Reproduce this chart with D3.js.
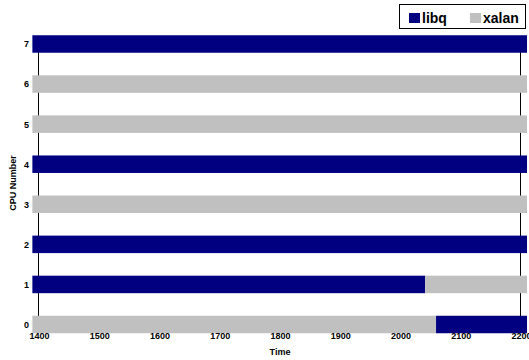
<!DOCTYPE html>
<html>
<head>
<meta charset="utf-8">
<script src="https://cdn.jsdelivr.net/npm/d3@7"></script>
<style>
  body { margin: 0; background: #fff; }
  svg { display: block; font-family: "Liberation Sans", Arial, sans-serif; }
</style>
</head>
<body>
<svg width="529" height="360"></svg>
<script>
// data
const cpus = [0, 1, 2, 3, 4, 5, 6, 7];
const programs = ['libq', 'xalan'];
const colors = ['#000080', '#c0c0c0'];
const xTicks = [1400, 1500, 1600, 1700, 1800, 1900, 2000, 2100, 2200];
const runStart = 1389;
const runEnd = 2210;
// program running on each cpu, with the time it switched (null = no switch)
const firstProg = ['xalan', 'libq', 'libq', 'xalan', 'libq', 'xalan', 'xalan', 'libq'];
const secondProg = ['libq', 'xalan', null, null, null, null, null, null];
const switchTime = [2059, 2041, null, null, null, null, null, null];

var segments = [];
cpus.forEach((c, i) => {
    if (switchTime[i] === null) {
        segments.push({cpu: c, from: runStart, to: runEnd, prog: firstProg[i]});
    } else {
        segments.push({cpu: c, from: runStart, to: switchTime[i], prog: firstProg[i]});
        segments.push({cpu: c, from: switchTime[i], to: runEnd, prog: secondProg[i]});
    }
});

const svg = d3.select('svg');

const xScale = d3.scaleLinear()
    .domain([1400, 2200])
    .range([39, 521]);

const yScale = d3.scaleLinear()
    .domain([0, 7])
    .range([324.5, 44]);

const color = d3.scaleOrdinal()
    .domain(programs)
    .range(colors);

const barH = 17.5;

// the two vertical lines at the ends of the axis
svg.append('g')
    .selectAll('line')
    .data([1400, 2200])
    .enter()
    .append('line')
    .attr('x1', d => xScale(d) - 0.5)
    .attr('x2', d => xScale(d) - 0.5)
    .attr('y1', yScale(7))
    .attr('y2', yScale(0))
    .attr('stroke', '#000')
    .attr('stroke-width', 1);

svg.append('g')
    .selectAll('rect')
    .data(segments)
    .enter()
    .append('rect')
    .attr('x', s => xScale(s.from))
    .attr('y', s => yScale(s.cpu) - barH / 2)
    .attr('width', s => xScale(s.to) - xScale(s.from))
    .attr('height', barH)
    .attr('fill', s => color(s.prog));

// x axis labels
const xAxis = svg.append('g')
    .attr('transform', `translate(0, 333)`)
    .call(d3.axisBottom(xScale).tickValues(xTicks).tickSize(0).tickPadding(0).tickFormat(d3.format('d')));
xAxis.select('.domain').remove();
xAxis.selectAll('text')
    .attr('font-size', 9)
    .attr('font-weight', 'bold')
    .attr('font-family', '"Liberation Sans", Arial, sans-serif')
    .attr('fill', '#000');

// y axis labels
const yAxis = svg.append('g')
    .attr('transform', `translate(29, 0)`)
    .call(d3.axisLeft(yScale).tickValues(cpus).tickSize(0).tickPadding(0).tickFormat(d3.format('d')));
yAxis.select('.domain').remove();
yAxis.selectAll('text')
    .attr('font-size', 9)
    .attr('font-weight', 'bold')
    .attr('font-family', '"Liberation Sans", Arial, sans-serif')
    .attr('fill', '#000');

svg.append('text')
    .attr('x', xScale(1800))
    .attr('y', 355)
    .attr('text-anchor', 'middle')
    .attr('font-size', 9)
    .attr('font-weight', 'bold')
    .text('Time');

svg.append('text')
    .attr('transform', 'translate(16, 183) rotate(-90)')
    .attr('text-anchor', 'middle')
    .attr('font-size', 9)
    .attr('font-weight', 'bold')
    .text('CPU Number');

// legend
const legend = svg.append('g');
legend.append('rect')
    .attr('x', 399.5)
    .attr('y', 4.5)
    .attr('width', 126)
    .attr('height', 24)
    .attr('fill', '#fff')
    .attr('stroke', '#000');

const legendX = [409, 470];
programs.forEach((p, i) => {
    legend.append('rect')
        .attr('x', legendX[i])
        .attr('y', 13)
        .attr('width', 11)
        .attr('height', 10)
        .attr('fill', color(p));
    legend.append('text')
        .attr('x', legendX[i] + 13)
        .attr('y', 22.5)
        .attr('font-size', 14)
        .attr('font-weight', 'bold')
        .text(p);
});
</script>
</body>
</html>
